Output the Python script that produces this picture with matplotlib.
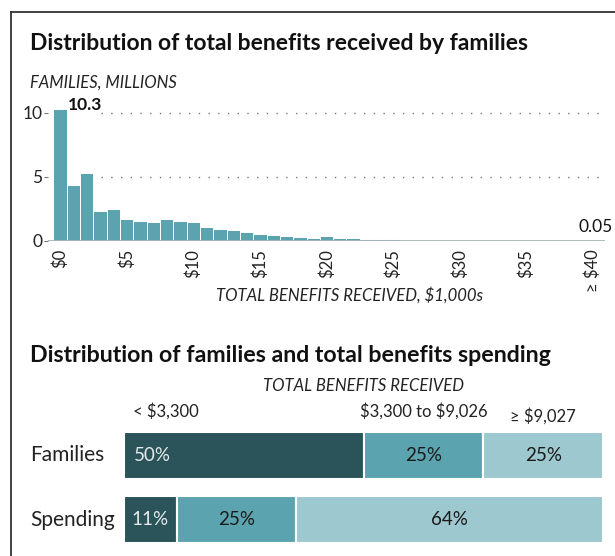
import matplotlib.pyplot as plt
from matplotlib.lines import Line2D
from matplotlib.transforms import blended_transform_factory

plt.rcParams["text.parse_math"] = False

# histogram: families (millions) by total benefits received, $1,000 bins
bin_index = list(range(41))
families_millions = [
    10.3, 4.35, 5.3, 2.32, 2.45, 1.7, 1.57, 1.45, 1.67, 1.55,
    1.48, 1.06, 0.89, 0.84, 0.67, 0.55, 0.43, 0.38, 0.32, 0.2,
    0.33, 0.18, 0.22, 0.15, 0.13, 0.12, 0.09, 0.08, 0.06, 0.05,
    0.05, 0.04, 0.04, 0.04, 0.04, 0.04, 0.04, 0.04, 0.04, 0.04,
    0.05,
]
x_ticks = [0, 5, 10, 15, 20, 25, 30, 35, 40]
x_tick_labels = ["$0", "$5", "$10", "$15", "$20", "$25", "$30", "$35", "≥ $40"]
y_ticks = [0, 5, 10]

# stacked shares
rows = ["Families", "Spending"]
groups = ["< $3,300", "$3,300 to $9,026", "≥ $9,027"]
families_share = [50, 25, 25]
spending_share = [11, 25, 64]

DARK = "#2b535a"
MID = "#5ba4af"
LIGHT = "#9ec8cf"
TEXT = "#222222"

BODY = ["Lato", "DejaVu Sans"]
ITAL = ["Lato", "DejaVu Sans"]

W, H = 615, 556


def fx(px):
    return px / W


def fy(py):
    return 1 - py / H


fig = plt.figure(figsize=(W / 100, H / 100), dpi=100)

# frame
fig.add_artist(Line2D([fx(10.5), fx(10.5)], [0, fy(11.5)], color="#333333", lw=1.3, transform=fig.transFigure))
fig.add_artist(Line2D([fx(10.5), 1], [fy(11.5), fy(11.5)], color="#333333", lw=1.3, transform=fig.transFigure))

fig.text(fx(30), fy(44), "Distribution of total benefits received by families", family=BODY,
         fontsize=16.5, weight="bold", color="#111111", va="center")
fig.text(fx(30), fy(83), "FAMILIES, MILLIONS", family=ITAL, style="italic", fontsize=12,
         color=TEXT, va="center")

ax1 = fig.add_axes([fx(48), fy(240.7), fx(557), 134.4 / H])
ax1.set_xlim(-0.9, 40.9)
ax1.set_ylim(0, 10.5)
ax1.bar(bin_index, families_millions, width=1.0, color=MID, edgecolor="white", linewidth=0.7, zorder=2)
ax1.hlines([5, 10], 3.05, 40.9, colors="#777777", linestyles=(0, (1, 6)), lw=1.0, zorder=1)
ax1.axhline(0, color="#a8b4b6", lw=1.3, zorder=3)
for side in ["top", "right", "left", "bottom"]:
    ax1.spines[side].set_visible(False)
ax1.set_yticks(y_ticks)
ax1.set_yticklabels([str(v) for v in y_ticks], family=BODY, fontsize=12.5, color=TEXT)
ax1.tick_params(axis="y", length=3, width=0.8, color="#777777", pad=1)
ax1.set_xticks(x_ticks)
ax1.set_xticklabels(x_tick_labels, family=BODY, fontsize=12, color=TEXT, rotation=90, va="top")
ax1.tick_params(axis="x", length=0, pad=6)
ax1.text(0.6, families_millions[0] - 0.05, "10.3", family=BODY, fontsize=12.5, weight="bold",
         color="#111111", ha="left", va="baseline")
ax1.text(41.5, 0.65, "0.05", family=BODY, fontsize=12.5, color="#111111", ha="right",
         va="baseline", clip_on=False)
fig.text(fx(350), fy(295), "TOTAL BENEFITS RECEIVED, $1,000s", family=ITAL, style="italic",
         fontsize=12, color=TEXT, ha="center", va="center")

# second panel
fig.text(fx(30), fy(356), "Distribution of families and total benefits spending", family=BODY,
         fontsize=16.7, weight="bold", color="#111111", va="center")

ax2 = fig.add_axes([fx(124), fy(543.3), fx(479), 111.6 / H])
ax2.set_xlim(0, 100)
ax2.set_ylim(-0.3635, 1.3635)
ax2.axis("off")

colors = [DARK, MID, LIGHT]
label_colors = ["#e6eaeb", "#1a1a1a", "#1a1a1a"]
row_y = [1, 0]
row_label_tf = blended_transform_factory(fig.transFigure, ax2.transData)
for name, y, shares in zip(rows, row_y, [families_share, spending_share]):
    left = 0
    for j, share in enumerate(shares):
        ax2.barh(y, share, left=left, height=0.727, color=colors[j], edgecolor="white", linewidth=1.5)
        if name == "Families" and j == 0:
            ax2.text(left + 2.1, y, f"{share}%", family=BODY, fontsize=13.5, color=label_colors[j],
                     ha="left", va="center")
        else:
            ax2.text(left + share / 2, y, f"{share}%", family=BODY, fontsize=13.5,
                     color=label_colors[j], ha="center", va="center")
        left += share
    ax2.text(fx(30), y, name, transform=row_label_tf, family=BODY, fontsize=15, color=TEXT,
             ha="left", va="center")

group_x = [1.9, families_share[0] + families_share[1] / 2,
           families_share[0] + families_share[1] + families_share[2] / 2]
group_y = [1.68, 1.68, 1.61]
group_ha = ["left", "center", "center"]
for label, gx, gy, ha in zip(groups, group_x, group_y, group_ha):
    ax2.text(gx, gy, label, family=BODY, fontsize=12, color=TEXT, ha=ha, va="center", clip_on=False)
ax2.text(50, 2.07, "TOTAL BENEFITS RECEIVED", family=ITAL, style="italic", fontsize=12,
         color=TEXT, ha="center", va="center", clip_on=False)

fig.savefig("out.png", dpi=100)
